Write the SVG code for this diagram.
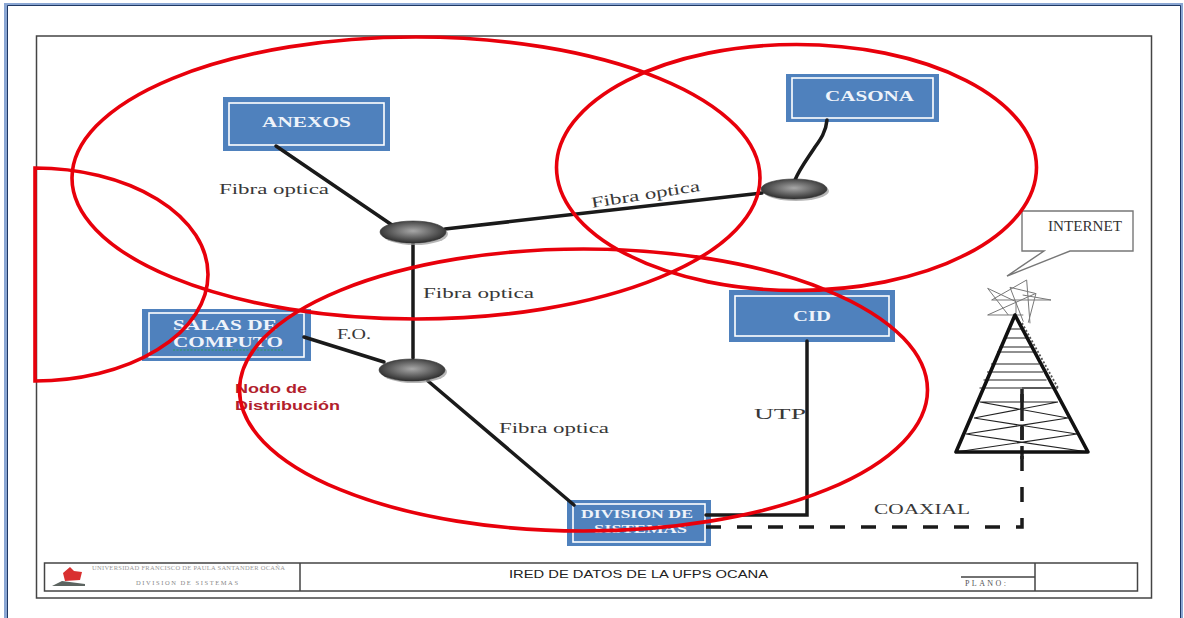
<svg xmlns="http://www.w3.org/2000/svg" width="1184" height="618" viewBox="0 0 1184 618">
<defs>
<radialGradient id="g" cx="50%" cy="45%" r="55%"><stop offset="0" stop-color="#a8a8a8"/><stop offset="1" stop-color="#2e2e2e"/></radialGradient>
</defs>
<style>
.box{fill:#4f81bd}
.in{fill:none;stroke:#fff;stroke-width:1.6}
.bt{font-family:"Liberation Serif",serif;font-weight:bold;font-size:15px;fill:#eef3fa}
.lb{font-family:"Liberation Serif",serif;font-size:15.500px;fill:#383838}
.w{fill:none;stroke:#1a1a1a;stroke-width:3.500;stroke-linecap:round}
.r{fill:none;stroke:#e8000b;stroke-width:3.600}
.hub{fill:url(#g);stroke:#333;stroke-width:.6}
.sh{fill:#999;opacity:.7}
.fr{fill:none;stroke:#444;stroke-width:1.500}
.t1{fill:none;stroke:#111;stroke-width:3.600;stroke-linejoin:round}
.t2{fill:none;stroke:#222;stroke-width:1.100}
.t3{fill:none;stroke:#777;stroke-width:3}
</style>
<rect width="1184" height="618" fill="#fff"/>
<g id="window">
<path d="M5.500 618V4.500H1181.500V618" fill="none" stroke="#8aa6d3" stroke-width="3"/>
<path d="M7.500 618V5.500H1180.500V618" fill="none" stroke="#1f3864" stroke-width="1"/>
</g>
<g id="frame">
<rect class="fr" x="36.500" y="36" width="1115" height="562"/>
<rect class="fr" x="44.500" y="563" width="1093" height="28"/>
<path class="fr" d="M300 563V591M1035 563V591M961 577H1035V591"/>
</g>
<g id="anexos"><rect class="box" x="223" y="97" width="167" height="54"/><rect class="in" x="229" y="103" width="155" height="42"/><text class="bt" x="262" y="127" textLength="89" lengthAdjust="spacingAndGlyphs">ANEXOS</text></g>
<g id="casona"><rect class="box" x="786" y="74" width="153" height="48"/><rect class="in" x="792" y="78" width="141" height="40"/><text class="bt" x="825" y="101" textLength="89" lengthAdjust="spacingAndGlyphs">CASONA</text></g>
<g id="cid"><rect class="box" x="729" y="290" width="166" height="52"/><rect class="in" x="735" y="296" width="154" height="40"/><text class="bt" x="793" y="321" textLength="38" lengthAdjust="spacingAndGlyphs">CID</text></g>
<g id="salas"><rect class="box" x="142" y="309" width="169" height="52"/><rect class="in" x="149" y="313" width="155" height="44"/><text class="bt" x="173" y="330" textLength="104" lengthAdjust="spacingAndGlyphs">SALAS DE</text><text class="bt" x="173" y="347" textLength="110" lengthAdjust="spacingAndGlyphs">COMPUTO</text><path d="M173 350H283" fill="none" stroke="#2e9a5a" stroke-width="1" stroke-dasharray="2 1.500"/></g>
<g id="division"><rect class="box" x="567" y="500" width="144" height="46"/><rect class="in" x="573" y="504" width="132" height="38"/><text class="bt" x="581" y="518" textLength="112" lengthAdjust="spacingAndGlyphs" style="font-size:13.500px">DIVISION DE</text><text class="bt" x="594" y="533" textLength="93" lengthAdjust="spacingAndGlyphs" style="font-size:13.500px">SISTEMAS</text></g>
<g id="connectors">
<path class="w" d="M276 146L392 225"/>
<path class="w" d="M445 229L762 193"/>
<path class="w" d="M827 120C826 132 820 140 815 147C808 158 800 168 795 180"/>
<path class="w" d="M413 243V358"/>
<path class="w" d="M304 337L384 362"/>
<path class="w" d="M428 381L574 505"/>
<path class="w" d="M706 515H807V341"/>
<path d="M706 527H1022V390" fill="none" stroke="#1a1a1a" stroke-width="3.500" stroke-dasharray="15 16"/>
</g>
<g id="hubs">
<ellipse class="sh" cx="415" cy="234" rx="33" ry="11"/><ellipse class="hub" cx="413" cy="232" rx="33" ry="11"/>
<ellipse class="sh" cx="414" cy="372" rx="33" ry="11"/><ellipse class="hub" cx="412" cy="370" rx="33" ry="11"/>
<ellipse class="sh" cx="796" cy="191" rx="33" ry="10"/><ellipse class="hub" cx="794" cy="189" rx="33" ry="10"/>
</g>
<g id="labels">
<text class="lb" x="219" y="194" textLength="110" lengthAdjust="spacingAndGlyphs">Fibra optica</text>
<text class="lb" x="592" y="208" textLength="110" lengthAdjust="spacingAndGlyphs" transform="rotate(-9 592 208)">Fibra optica</text>
<text class="lb" x="423" y="298" textLength="111" lengthAdjust="spacingAndGlyphs">Fibra optica</text>
<text class="lb" x="499" y="433" textLength="110" lengthAdjust="spacingAndGlyphs">Fibra optica</text>
<text class="lb" x="337" y="339" textLength="34" lengthAdjust="spacingAndGlyphs">F.O.</text>
<text class="lb" x="754" y="419" textLength="52" lengthAdjust="spacingAndGlyphs">UTP</text>
<text class="lb" x="874" y="514" textLength="96" lengthAdjust="spacingAndGlyphs">COAXIAL</text>
<text x="235" y="393" font-family="'Liberation Sans',sans-serif" font-size="13.500" font-weight="bold" fill="#b2202c" textLength="72" lengthAdjust="spacingAndGlyphs">Nodo de</text>
<text x="235" y="410" font-family="'Liberation Sans',sans-serif" font-size="13.500" font-weight="bold" fill="#b2202c" textLength="105" lengthAdjust="spacingAndGlyphs">Distribución</text>
</g>
<g id="tower">
<path d="M1007 276L1044 251H1022V211H1133V251H1070Z" fill="#fff" stroke="#777" stroke-width="1.400"/>
<text x="1048" y="231" font-family="'Liberation Serif',serif" font-size="14.500" fill="#333" textLength="74" lengthAdjust="spacingAndGlyphs">INTERNET</text>
<g transform="translate(940 200) scale(.3333)">
<path class="t3" d="M143 265L205 345M143 265L228 305M155 300H333L248 285M260 240L155 300M260 240L270 370M210 262L285 280M210 262L250 365M288 280L265 368M288 280L143 345H250M228 305V340"/>
</g>
<path class="t2" d="M1008 329H1022M1004 338H1026M999.500 347H1030.500M997 352H1033M991 364H1039M987 372H1043M983.500 380H1046.500M979.500 388H1050.500"/>
<path class="t2" d="M980 402L1068 418M1058 402L974 418M974 418L1077 434M1068 418L966 434M966 434L1088 452M1077 434L956 452M980 402H1058"/>
<path d="M1022 388H1058" class="t2"/>
<path d="M1022 323L1058 388" fill="none" stroke="#555" stroke-width="1.800" stroke-dasharray="2 2"/>
<path d="M1022 389V463" fill="none" stroke="#222" stroke-width="3.500" stroke-dasharray="13 6"/>
<path class="t1" d="M956 452H1088L1015 315Z"/>
</g>
<g id="title-block">
<path d="M63 573L70 567L74 571L82 572L80 580L65 581Z" fill="#d93030"/>
<path d="M52 586L62 581L85 584V586Z" fill="#5c6460"/>
<text x="92" y="570" font-family="'Liberation Serif',serif" font-size="6.500" fill="#999" textLength="193" lengthAdjust="spacing">UNIVERSIDAD FRANCISCO DE PAULA SANTANDER OCAÑA</text>
<text x="136" y="585" font-family="'Liberation Serif',serif" font-size="6.500" fill="#888" textLength="102" lengthAdjust="spacing">DIVISION DE SISTEMAS</text>
<text x="509" y="578" font-family="'Liberation Sans',sans-serif" font-size="11.500" fill="#222" textLength="259" lengthAdjust="spacingAndGlyphs">IRED DE DATOS DE LA UFPS OCANA</text>
<text x="965" y="586" font-family="'Liberation Serif',serif" font-size="8" fill="#555" textLength="41" lengthAdjust="spacing">PLANO:</text>
</g>
<g id="zones">
<ellipse class="r" cx="416" cy="178" rx="344" ry="141"/>
<ellipse class="r" cx="796.500" cy="167.500" rx="240" ry="123"/>
<ellipse class="r" cx="583.500" cy="390" rx="344" ry="141"/>
<path class="r" d="M35 168A173 106.500 0 0 1 35 381Z"/>
</g>
</svg>
